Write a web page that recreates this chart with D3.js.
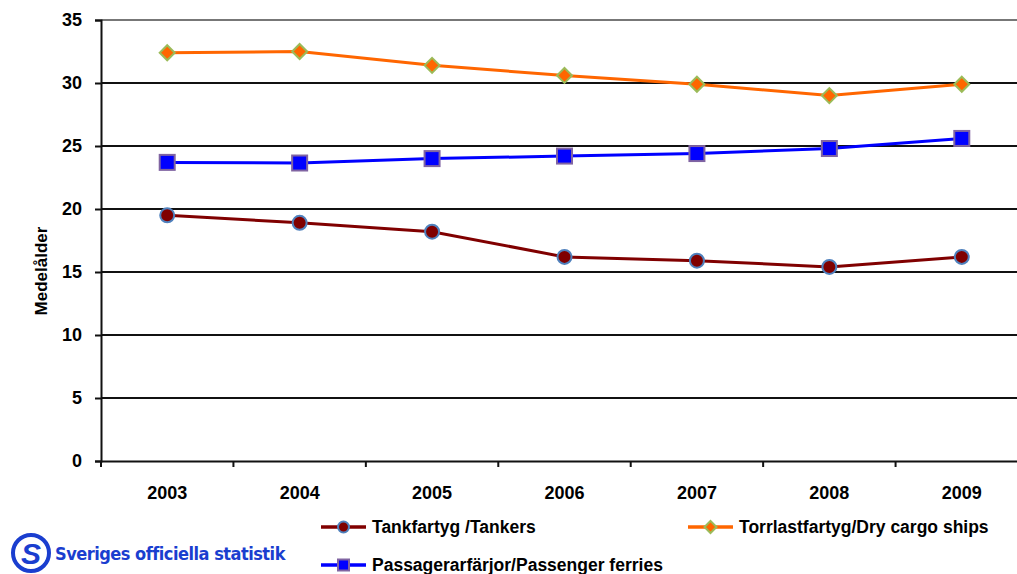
<!DOCTYPE html>
<html>
<head>
<meta charset="utf-8">
<script src="https://cdn.jsdelivr.net/npm/d3@7"></script>
<style>
  body { margin: 0; background: #fff; }
  text { font-family: "Liberation Sans", Arial, sans-serif; font-weight: bold; }
</style>
</head>
<body>
<svg id="chart" width="1017" height="574"></svg>
<script>
const years = ['2003', '2004', '2005', '2006', '2007', '2008', '2009']
const tankers = [19.5, 18.9, 18.2, 16.2, 15.9, 15.4, 16.2]
const dryCargo = [32.4, 32.5, 31.4, 30.6, 29.9, 29.0, 29.9]
const ferries = [23.7, 23.65, 24.0, 24.2, 24.4, 24.8, 25.6]
const yTicks = [0, 5, 10, 15, 20, 25, 30, 35]

const series = [
  { name: 'Tankfartyg /Tankers', values: tankers, line: '#800000', fill: '#800000', stroke: '#4f81bd', shape: 'circle' },
  { name: 'Torrlastfartyg/Dry cargo ships', values: dryCargo, line: '#ff6600', fill: '#ff6600', stroke: '#9bbb59', shape: 'diamond' },
  { name: 'Passagerarfärjor/Passenger ferries', values: ferries, line: '#0000ff', fill: '#0000ff', stroke: '#8064a2', shape: 'square' }
]

let svg = d3.select('#chart')
let plot = { left: 101, top: 20, bottom: 461, right: 1028 }

let x = d3.scaleBand().domain(years).range([plot.left, plot.right])
let y = d3.scaleLinear().domain([0, 35]).range([plot.bottom, plot.top])

// grid
svg.append('g').selectAll('line').data(yTicks.filter(d => d > 0)).join('line')
  .attr('x1', plot.left).attr('x2', 1017)
  .attr('y1', d => y(d)).attr('y2', d => y(d))
  .attr('stroke', d => d === 35 ? '#777' : '#111').attr('stroke-width', 2)

// y axis
let yAxis = svg.append('g').attr('transform', 'translate(' + plot.left + ',0)')
  .call(d3.axisLeft(y).tickValues(yTicks).tickSize(6).tickPadding(13))
yAxis.select('.domain').attr('stroke', '#111').attr('stroke-width', 2)
yAxis.selectAll('.tick line').attr('stroke', '#111').attr('stroke-width', 2)
yAxis.selectAll('text').attr('font-size', 18).attr('fill', '#000')
  .style('font-family', '"Liberation Sans", Arial, sans-serif').style('font-weight', 'bold')

// x axis
let xAxis = svg.append('g').attr('transform', 'translate(0,' + plot.bottom + ')')
  .call(d3.axisBottom(x).tickSize(0).tickPadding(25))
xAxis.select('.domain').attr('stroke', '#111').attr('stroke-width', 2)
xAxis.selectAll('text').attr('font-size', 18).attr('fill', '#000')
  .style('font-family', '"Liberation Sans", Arial, sans-serif').style('font-weight', 'bold')
svg.append('g').selectAll('line').data(years).join('line')
  .attr('x1', d => x(d)).attr('x2', d => x(d))
  .attr('y1', plot.bottom).attr('y2', plot.bottom + 6)
  .attr('stroke', '#111').attr('stroke-width', 2)

// y label
svg.append('text')
  .attr('transform', 'translate(47,271) rotate(-90)')
  .attr('text-anchor', 'middle').attr('font-size', 17)
  .text('Medelålder')

function marker(sel, s, size) {
  if(s.shape === 'circle') {
    sel.append('circle').attr('r', size / 2)
  } else if(s.shape === 'diamond') {
    let h = size / 2
    sel.append('path').attr('d', 'M0,' + -h + 'L' + h + ',0L0,' + h + 'L' + -h + ',0Z')
  } else {
    sel.append('rect').attr('x', -size / 2).attr('y', -size / 2).attr('width', size).attr('height', size)
  }
  sel.selectAll('*').attr('fill', s.fill).attr('stroke', s.stroke).attr('stroke-width', 2)
}

let line = d3.line().x((d, i) => x(years[i]) + x.bandwidth() / 2).y(d => y(d))

series.forEach(function(s) {
  svg.append('path').datum(s.values)
    .attr('d', line).attr('fill', 'none')
    .attr('stroke', s.line).attr('stroke-width', 3)
  s.values.forEach(function(v, i) {
    let g = svg.append('g')
      .attr('transform', 'translate(' + (x(years[i]) + x.bandwidth() / 2) + ',' + y(v) + ')')
    marker(g, s, s.shape === 'circle' ? 14 : 15)
  })
})

// legend
let legendPos = [[321, 527], [688, 527], [321, 565]]
series.forEach(function(s, i) {
  let p = legendPos[i]
  let g = svg.append('g').attr('transform', 'translate(' + p[0] + ',' + p[1] + ')')
  g.append('line').attr('x1', 0).attr('x2', 45).attr('stroke', s.line).attr('stroke-width', 3.5)
  let m = g.append('g').attr('transform', 'translate(22.5,0)')
  marker(m, s, s.shape === 'diamond' ? 12 : 11)
  g.append('text').attr('x', 51).attr('dy', '0.35em')
    .attr('font-size', 17.5)
    .text(s.name)
})

// logo
let logo = svg.append('g').attr('transform', 'translate(31,553)')
logo.append('circle').attr('r', 18).attr('fill', 'none').attr('stroke', '#1a3ecf').attr('stroke-width', 4)
logo.append('text').attr('text-anchor', 'middle').attr('dy', '0.36em')
  .attr('font-size', 30).attr('fill', '#1a3ecf').attr('font-style', 'italic').text('S')
svg.append('text').attr('x', 55).attr('y', 560)
  .attr('font-size', 18).attr('fill', '#1a3ecf')
  .style('font-family', '"DejaVu Sans Condensed", "DejaVu Sans", sans-serif')
  .attr('letter-spacing', -0.5)
  .text('Sveriges officiella statistik')
</script>
</body>
</html>
